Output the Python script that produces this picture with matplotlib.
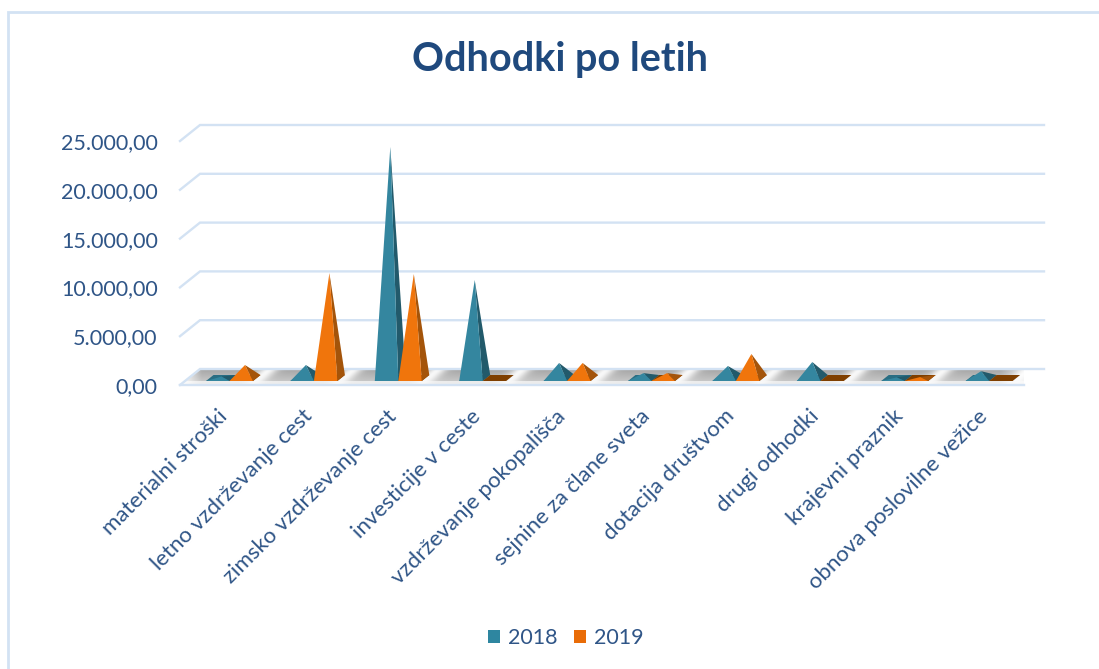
import numpy as np
import matplotlib
matplotlib.use("Agg")
import matplotlib.pyplot as plt
from matplotlib.lines import Line2D
from matplotlib.patches import Patch, Polygon
from matplotlib.transforms import ScaledTranslation

categories = ["materialni stroški", "letno vzdrževanje cest", "zimsko vzdrževanje cest",
              "investicije v ceste", "vzdrževanje pokopališča", "sejnine za člane sveta",
              "dotacija društvom", "drugi odhodki", "krajevni praznik", "obnova poslovilne vežice"]
values_2018 = [150, 1330, 23670, 10040, 1540, 500, 1230, 1640, 60, 700]
values_2019 = [1330, 10750, 10650, 0, 1540, 500, 2460, 0, 100, 0]
y_ticks = [0, 5000, 10000, 15000, 20000, 25000]
y_labels = ["0,00", "5.000,00", "10.000,00", "15.000,00", "20.000,00", "25.000,00"]
series_names = ["2018", "2019"]

FONT = "Lato"
TXT = "#2f5587"
GRID = "#d3e2f3"
FIG_W, FIG_H = 1099, 669
fig = plt.figure(figsize=(FIG_W / 100, FIG_H / 100), dpi=100, facecolor="white")
ax = fig.add_axes([180 / FIG_W, (FIG_H - 385) / FIG_H, 844 / FIG_W, 244 / FIG_H])
ax.set_xlim(0, 10)
ax.set_ylim(0, 25000)
ax.patch.set_visible(False)
for s in ax.spines.values():
    s.set_visible(False)

# oblique projection: depth 1 = back wall
DX = 20 / 84.4
DY = 16 / 244 * 25000


def proj(x, v, d):
    return x + d * DX, v + d * DY


# floor texture
W, H = 864, 16
xx, rr = np.meshgrid(np.arange(W) + 0.5, (np.arange(H) + 0.5) / H)
phase = (xx - 90 + 20 * rr * 0.9) / 84.4
stripe = np.exp(4.0 * (np.cos(2 * np.pi * phase) - 1))
gray = 0.64 + 0.18 * rr
tex = gray + (0.97 - gray) * stripe
tex = np.where(rr > 0.75, 0.25 * tex + 0.75 * 0.97, tex)
tex = tex + (1 - tex) * np.clip((xx - 820) / 40, 0, 1)
tex = tex + (1 - tex) * np.clip((22 - xx) / 22, 0, 1)
floor = [proj(0, 0, 0), proj(10, 0, 0), proj(10, 0, 1), proj(0, 0, 1)]
im = ax.imshow(tex, cmap="gray", vmin=0, vmax=1, aspect="auto",
               extent=(0, 10 + DX, 0, DY), origin="upper", zorder=1, interpolation="bilinear")
im.set_clip_path(Polygon(floor, transform=ax.transData))
ax.set_xlim(0, 10)
ax.set_ylim(0, 25000)

# gridlines on wall and side
for t in y_ticks:
    x0, y0 = proj(0, t, 0)
    x1, y1 = proj(0, t, 1)
    x2, y2 = proj(10, t, 1)
    ax.plot([x0, x1, x2], [y0, y1, y2], color=GRID, lw=1.7, clip_on=False, zorder=1.5,
            solid_joinstyle="miter")
ax.plot([0, 10], [0, 0], color=GRID, lw=1.7, clip_on=False, zorder=1.5)

# pyramids
D0, D1 = 0.25, 0.625
BAR_W = 23.5 / 84.4
MARGIN = 21 / 84.4
BASE_Y = (D0 + D1) / 2


def pyramid(x_left, value, front, side, flat):
    x_right = x_left + BAR_W
    fl = proj(x_left, 0, D0)
    fr = proj(x_right, 0, D0)
    br = proj(x_right, 0, D1)
    bl = proj(x_left, 0, D1)
    apex = proj(x_left + BAR_W / 2, value, BASE_Y)
    ax.add_patch(Polygon([fl, fr, br, bl], closed=True, fc=flat, ec="none", zorder=3, clip_on=False))
    if value > 0:
        ax.add_patch(Polygon([fr, br, apex], closed=True, fc=side, ec="none", zorder=3, clip_on=False))
        ax.add_patch(Polygon([fl, fr, apex], closed=True, fc=front, ec="none", zorder=3, clip_on=False))


for i, (a, b) in enumerate(zip(values_2018, values_2019)):
    pyramid(i + MARGIN, a, "#34869f", "#225a6b", "#2a6e83")
    pyramid(i + MARGIN + BAR_W, b, "#f0750c", "#a4540a", "#7f3f00")

# axes text
ax.set_yticks(y_ticks, y_labels, fontfamily=FONT, fontsize=15.5, color=TXT)
ax.set_xticks(np.arange(10) + 0.5, categories, fontfamily=FONT, fontsize=16, color=TXT,
              rotation=45, ha="right", va="top", rotation_mode="anchor")
ax.tick_params(axis="y", length=0, pad=16)
ax.tick_params(axis="x", length=0, pad=14)
shift = ScaledTranslation(-4.5 / 100, -1.5 / 100, fig.dpi_scale_trans)
for lab in ax.get_xticklabels():
    lab.set_transform(lab.get_transform() + shift)

# title
fig.text(560 / FIG_W, 1 - 60 / FIG_H, "Odhodki po letih", fontfamily=FONT, fontweight="bold",
         fontsize=28.5, color="#1f497d", ha="center", va="center")

# legend
handles = [Patch(fc="#2e86a0", ec="none"), Patch(fc="#e96c07", ec="none")]
fig.legend(handles, series_names, loc="center", bbox_to_anchor=(566 / FIG_W, 1 - 638 / FIG_H), ncol=2,
           frameon=False, prop={"family": FONT, "size": 15.5}, labelcolor=TXT,
           handlelength=0.56, handleheight=0.56, handletextpad=0.37, columnspacing=0.79)

# chart frame
fig.add_artist(Line2D([8 / FIG_W, 8 / FIG_W, 1], [0, 1 - 12 / FIG_H, 1 - 12 / FIG_H],
                      color=GRID, lw=2, transform=fig.transFigure, solid_joinstyle="miter"))

fig.savefig("out.png", dpi=100, facecolor="white")
